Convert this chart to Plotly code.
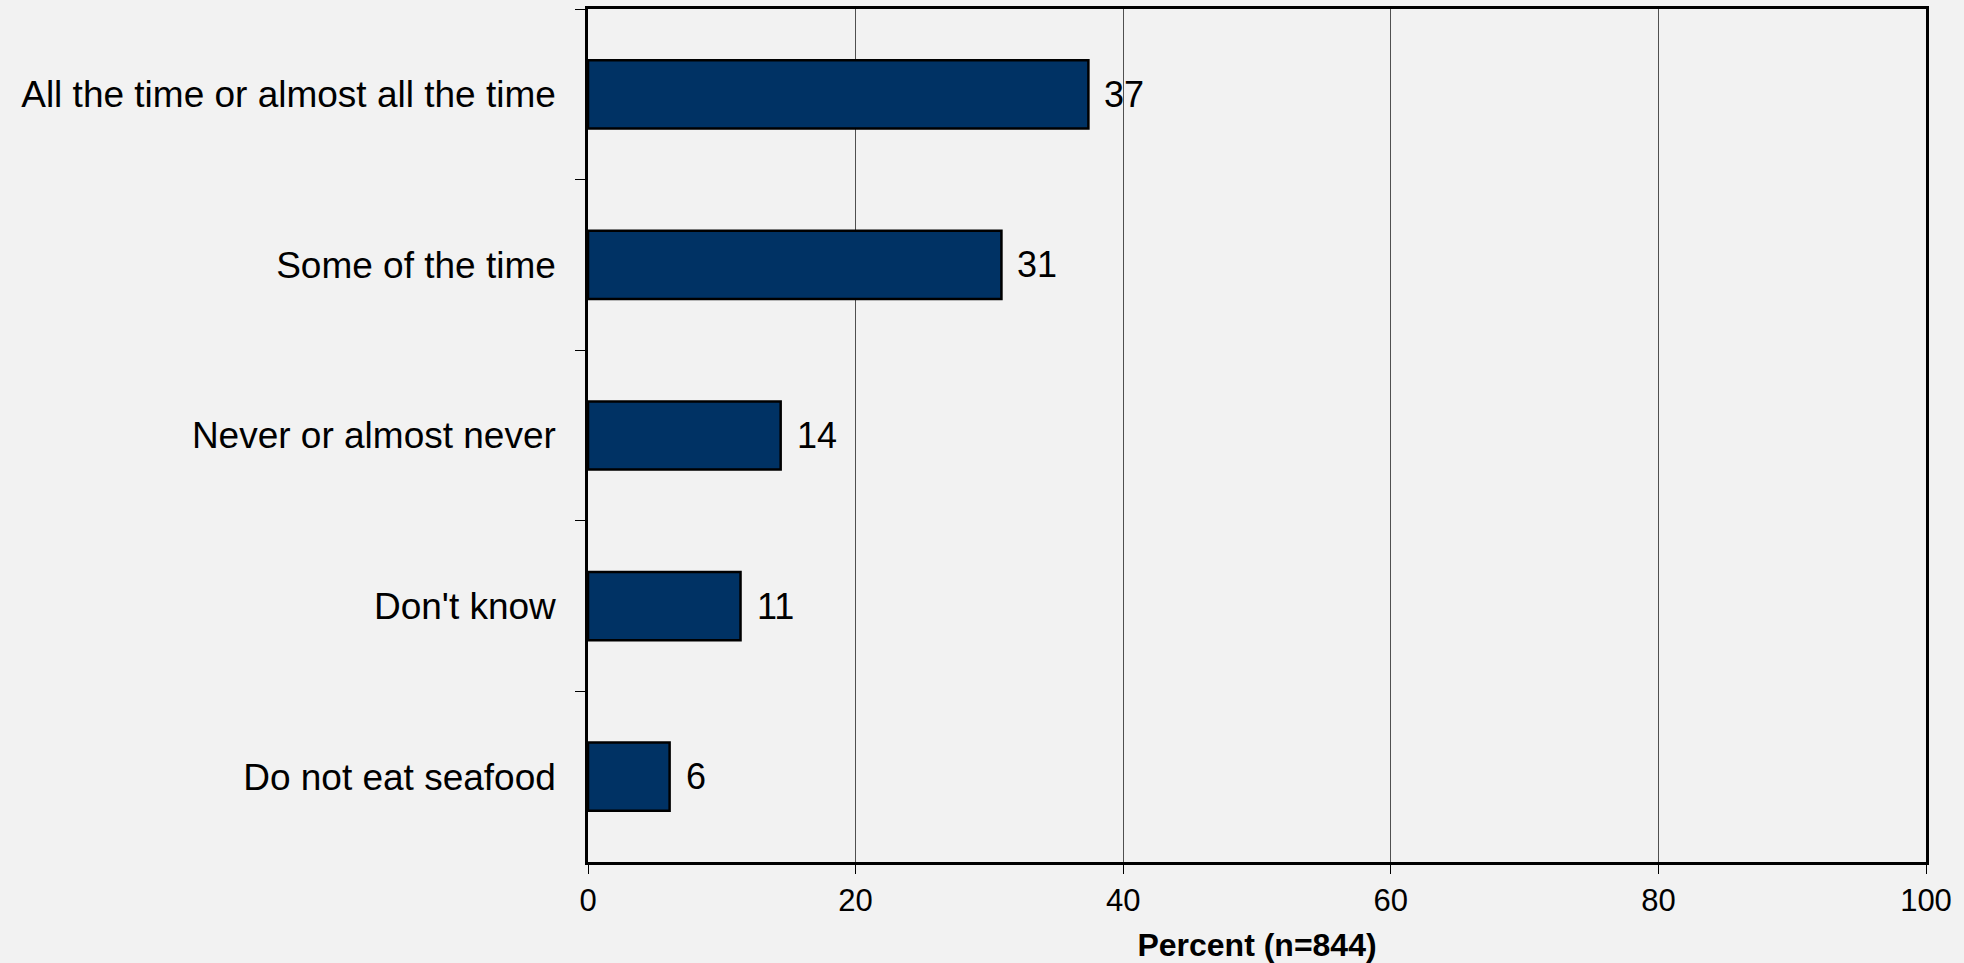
import plotly.graph_objects as go

categories = ["All the time or almost all the time", "Some of the time",
              "Never or almost never", "Don't know", "Do not eat seafood"]
values = [37.4, 30.9, 14.4, 11.4, 6.1]
labels = ["37", "31", "14", "11", "6"]
x_ticks = [0, 20, 40, 60, 80, 100]

fig = go.Figure()
fig.add_trace(go.Bar(
    x=values, y=categories, orientation="h", width=0.4,
    marker=dict(color="#003264", line=dict(color="#000000", width=2.5)),
    hoverinfo="skip",
))
for v, c, t in zip(values, categories, labels):
    fig.add_annotation(x=v, y=c, text=t, showarrow=False, xanchor="left",
                       xshift=14, font=dict(family="Liberation Sans, Arial", size=36, color="#000"))

fig.update_layout(
    width=1964, height=963,
    paper_bgcolor="#f2f2f2", plot_bgcolor="#f2f2f2",
    margin=dict(l=588, r=38, t=6, b=101),
    showlegend=False,
    font=dict(family="Liberation Sans, Arial", color="#000"),
)
fig.update_xaxes(
    range=[0, 100], tickvals=x_ticks, ticktext=[str(t) for t in x_ticks],
    showgrid=True, gridcolor="#505050", gridwidth=1,
    showline=True, linecolor="#000", linewidth=2.5, mirror=True,
    ticks="outside", ticklen=9, tickcolor="#000", tickwidth=1,
    tickfont=dict(size=31), zeroline=False,
    title=dict(text="<b>Percent (n=844)</b>", font=dict(size=32), standoff=17),
)
fig.update_yaxes(
    categoryorder="array", categoryarray=categories, autorange="reversed",
    showgrid=False, showline=True, linecolor="#000", linewidth=2.5, mirror=True,
    ticks="outside", ticklen=10, tickcolor="#000", tickwidth=1, tickson="boundaries",
    tickfont=dict(size=37), ticklabelstandoff=22,
)
fig.write_html("out.html", config={"displayModeBar": False},
               post_script="document.body.style.margin='0';document.body.style.background='#f2f2f2';")
